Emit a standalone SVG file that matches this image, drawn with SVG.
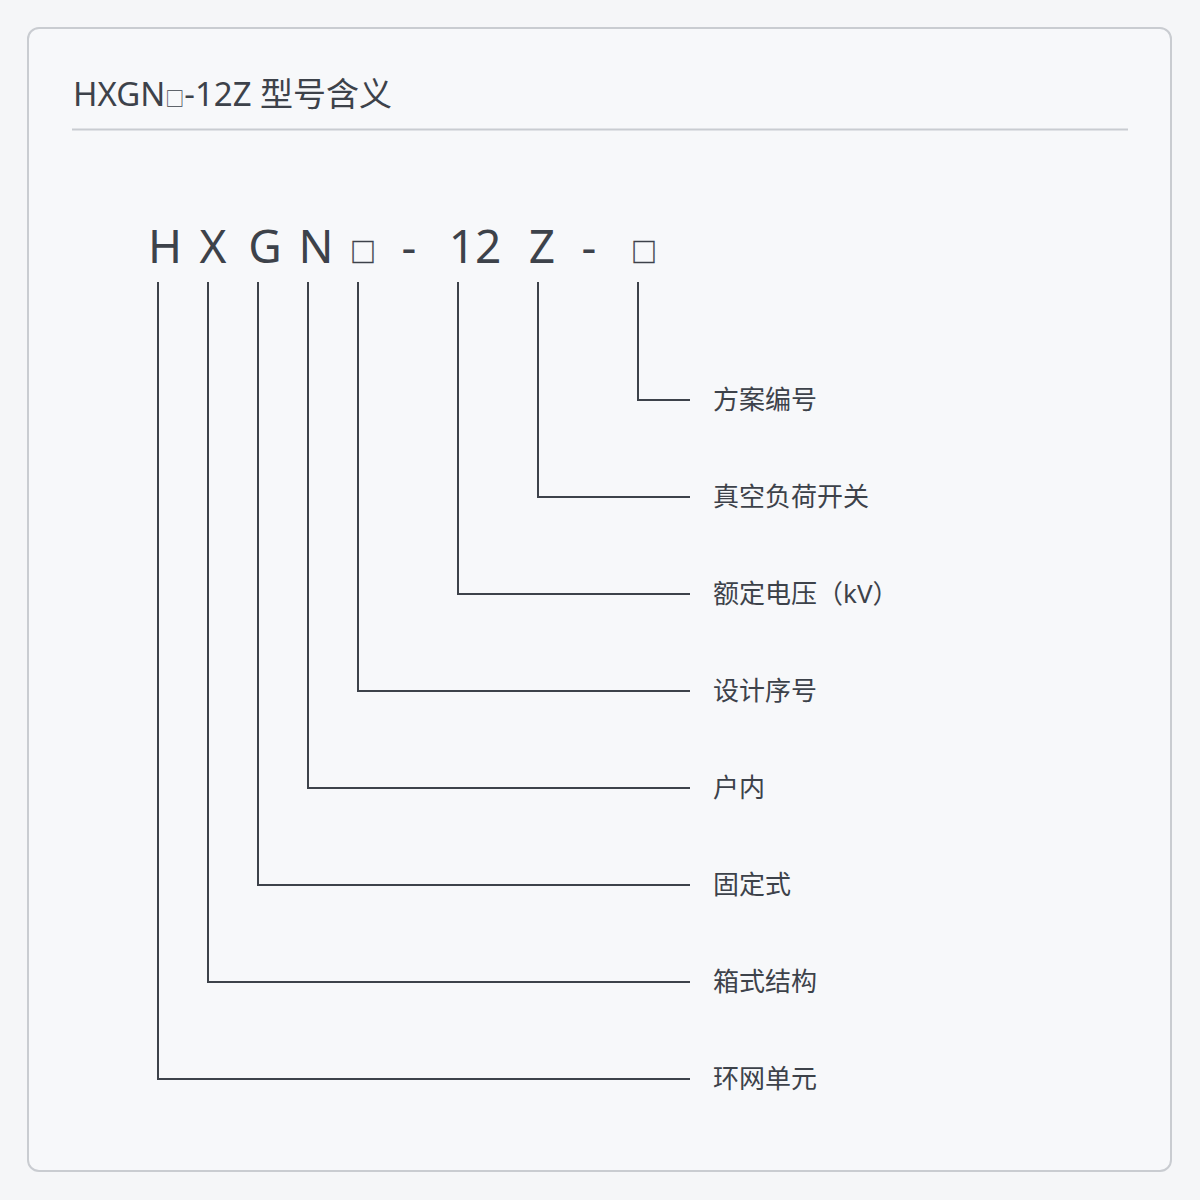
<svg xmlns="http://www.w3.org/2000/svg" width="1200" height="1200" viewBox="0 0 1200 1200">
<style>
text { font-family: "Noto Sans", "Noto Sans CJK SC", sans-serif; fill: #3d424a; }
.code { font-size: 46px; text-anchor: middle; }
.box { font-family: "Noto Sans CJK SC", sans-serif; font-size: 26px; text-anchor: middle; stroke: #3d424a; stroke-width: 0.4; }
.label { font-size: 26px; }
.conn path { fill: none; stroke: #3d424a; stroke-width: 2; }
</style>
<rect x="0" y="0" width="1200" height="1200" fill="#f5f6f8"/>
<rect x="28" y="28" width="1143" height="1143" rx="11" fill="#f7f8fa" stroke="#c9ccd1" stroke-width="2"/>
<g id="title">
<text x="73" y="106" style="font-size:33px">HXGN<tspan style="font-family:'Noto Sans CJK SC',sans-serif;font-size:19px">□</tspan>-12Z 型号含义</text>
<line x1="72" y1="129.5" x2="1128" y2="129.5" stroke="#c9ccd1" stroke-width="2"/>
</g>
<g id="code">
<text class="code" x="165" y="263">H</text>
<text class="code" x="213" y="263">X</text>
<text class="code" x="265" y="263">G</text>
<text class="code" x="316" y="263">N</text>
<text class="box" x="363" y="262">□</text>
<text class="code" x="409" y="263">-</text>
<text class="code" x="475" y="263">12</text>
<text class="code" x="542" y="263">Z</text>
<text class="code" x="589" y="263">-</text>
<text class="box" x="644" y="262">□</text>
</g>
<g class="conn" id="connectors">
<path d="M638 282 V400 H690"/>
<path d="M538 282 V497 H690"/>
<path d="M458 282 V594 H690"/>
<path d="M358 282 V691 H690"/>
<path d="M308 282 V788 H690"/>
<path d="M258 282 V885 H690"/>
<path d="M208 282 V982 H690"/>
<path d="M158 282 V1079 H690"/>
</g>
<g id="n1"><text class="label" x="713" y="409">方案编号</text></g>
<g id="n2"><text class="label" x="713" y="506">真空负荷开关</text></g>
<g id="n3"><text class="label" x="713" y="603">额定电压（kV）</text></g>
<g id="n4"><text class="label" x="713" y="700">设计序号</text></g>
<g id="n5"><text class="label" x="713" y="797">户内</text></g>
<g id="n6"><text class="label" x="713" y="894">固定式</text></g>
<g id="n7"><text class="label" x="713" y="991">箱式结构</text></g>
<g id="n8"><text class="label" x="713" y="1088">环网单元</text></g>
</svg>
